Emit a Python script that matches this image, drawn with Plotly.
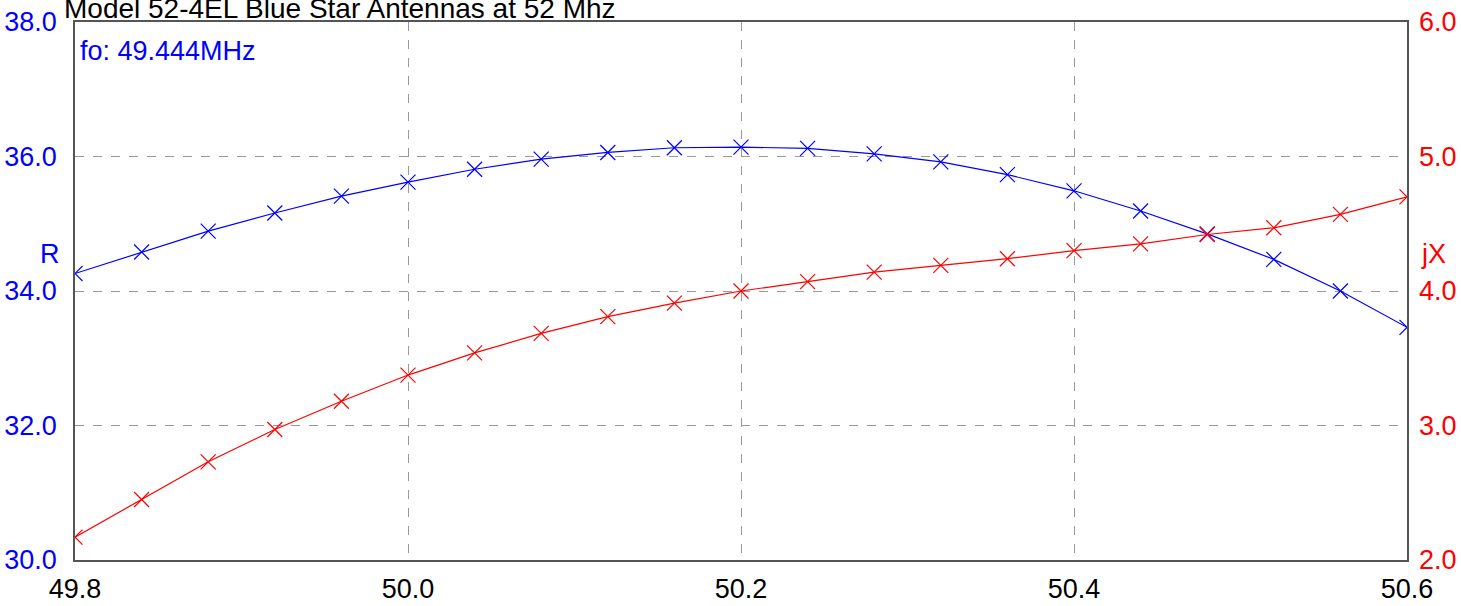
import plotly.graph_objects as go

freq = [49.80, 49.84, 49.88, 49.92, 49.96, 50.00, 50.04, 50.08, 50.12, 50.16, 50.20,
        50.24, 50.28, 50.32, 50.36, 50.40, 50.44, 50.48, 50.52, 50.56, 50.60]
r_vals = [34.26, 34.58, 34.89, 35.16, 35.41, 35.62, 35.81, 35.96, 36.06, 36.13, 36.14,
          36.12, 36.04, 35.92, 35.73, 35.49, 35.19, 34.85, 34.47, 34.00, 33.46]
jx_vals = [2.17, 2.45, 2.73, 2.97, 3.18, 3.375, 3.54, 3.685, 3.81, 3.91, 4.00,
           4.07, 4.14, 4.19, 4.24, 4.30, 4.35, 4.42, 4.47, 4.57, 4.70]

title_text = "Model 52-4EL Blue Star Antennas at 52 Mhz"
fo_text = "fo: 49.444MHz"
x_ticks = [49.8, 50.0, 50.2, 50.4, 50.6]
r_ticks = [30, 32, 34, 36, 38]
jx_ticks = [2, 3, 4, 5, 6]

FONT = "Liberation Sans, Arial, sans-serif"
BLUE = "#0000FF"
RED = "#FF0000"
FS = 27

fig = go.Figure()
fig.add_trace(go.Scatter(
    x=freq, y=r_vals, mode="lines+markers", name="R",
    line=dict(color=BLUE, width=1.2),
    marker=dict(symbol="x-thin-open", size=15, line=dict(color=BLUE, width=1.2)),
    cliponaxis=True, yaxis="y"))
fig.add_trace(go.Scatter(
    x=freq, y=jx_vals, mode="lines+markers", name="jX",
    line=dict(color=RED, width=1.2),
    marker=dict(symbol="x-thin-open", size=15, line=dict(color=RED, width=1.2)),
    cliponaxis=True, yaxis="y2"))

fig.update_layout(
    width=1461, height=606,
    margin=dict(l=75, r=54, t=22, b=46, autoexpand=False),
    paper_bgcolor="white", plot_bgcolor="white",
    showlegend=False,
    font=dict(family=FONT, size=FS, color="black"),
    xaxis=dict(
        range=[49.8, 50.6], tickvals=x_ticks, ticktext=[f"{v:.1f}" for v in x_ticks],
        showgrid=True, gridcolor="#999999", griddash="dash", gridwidth=1.2,
        showline=True, linecolor="#555555", linewidth=1.5, mirror=True,
        zeroline=False, ticks="", ticklabelstandoff=4, automargin=False,
        tickfont=dict(family=FONT, size=FS, color="black")),
    yaxis=dict(
        range=[30, 38], tickvals=r_ticks, ticktext=[f"{v:.1f}" for v in r_ticks],
        showgrid=True, gridcolor="#999999", griddash="dash", gridwidth=1.2,
        showline=True, linecolor="#555555", linewidth=1.5, mirror=True,
        zeroline=False, ticks="", ticklabelstandoff=11, automargin=False,
        tickfont=dict(family=FONT, size=FS, color=BLUE)),
    yaxis2=dict(
        range=[2, 6], tickvals=jx_ticks, ticktext=[f"{v:.1f}" for v in jx_ticks],
        overlaying="y", side="right", showgrid=False, zeroline=False,
        showline=False, ticks="", ticklabelstandoff=11, automargin=False,
        tickfont=dict(family=FONT, size=FS, color=RED)),
)

fig.add_annotation(text=title_text, xref="paper", yref="paper", x=0, y=1,
                   xanchor="left", yanchor="bottom", xshift=-13, yshift=-4,
                   showarrow=False, font=dict(family=FONT, size=28, color="black"))
fig.add_annotation(text=fo_text, xref="paper", yref="paper", x=0, y=1,
                   xanchor="left", yanchor="middle", xshift=3, yshift=-29,
                   showarrow=False, font=dict(family=FONT, size=27, color=BLUE))
fig.add_annotation(text="R", xref="paper", yref="y", x=0, y=34.55,
                   xanchor="right", yanchor="middle", xshift=-13,
                   showarrow=False, font=dict(family=FONT, size=27, color=BLUE))
fig.add_annotation(text="jX", xref="paper", yref="y", x=1, y=34.55,
                   xanchor="left", yanchor="middle", xshift=12,
                   showarrow=False, font=dict(family=FONT, size=27, color=RED))

fig.write_html(
    "out.html",
    config={"displayModeBar": False},
    post_script="document.documentElement.style.margin='0';document.body.style.margin='0';document.body.style.overflow='hidden';",
)
